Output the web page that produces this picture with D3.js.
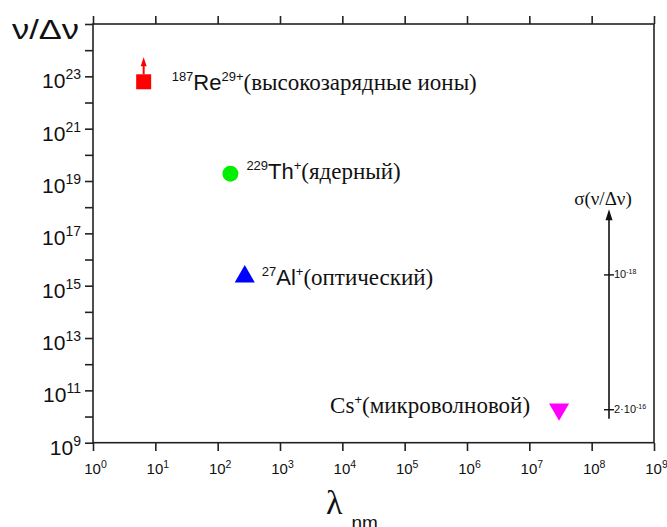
<!DOCTYPE html>
<html>
<head>
<meta charset="utf-8">
<script src="https://cdn.jsdelivr.net/npm/d3@7"></script>
<style>
  body { margin: 0; background: #fff; }
  text { fill: #111; }
</style>
</head>
<body>
<svg id="chart"></svg>
<script>
const width = 667;
const height = 527;
const margin = ({top: 24, right: 12, bottom: 84, left: 93});

// data
const ions = ["Re", "Th", "Al", "Cs"];
const wavelengths = [6.5, 160, 272, 3.0e7];        // nm
const ratios = [6.2e22, 1.9e19, 2.2e15, 1.9e10];   // nu / delta nu
const colors = ["#ff0000", "#00ee00", "#0000ff", "#ff00ff"];
const labelParts = [
  [["187", "sup"], ["Re", "sans"], ["29+", "sup"], ["(высокозарядные ионы)", "serif"]],
  [["229", "sup"], ["Th", "sans"], ["+", "sup"], ["(ядерный)", "serif"]],
  [["27", "sup"], ["Al", "sans"], ["+", "sup"], ["(оптический)", "serif"]],
  [["Cs", "serif"], ["+", "sup"], ["(микроволновой)", "serif"]]
];

const xExponents = [0, 1, 2, 3, 4, 5, 6, 7, 8, 9];
const yExponents = [9, 10, 11, 12, 13, 14, 15, 16, 17, 18, 19, 20, 21, 22, 23, 24, 25];
const yLabelExponents = [9, 11, 13, 15, 17, 19, 21, 23];

const sigmaTicks = [1e-18, 2e-16];
const sigmaTickLabels = [["10", "-18"], ["2·10", "-16"]];
const sigmaAnchors = [2.7e15, 1.9e10];   // ratios the sigma ticks line up with
const sigmaExtent = [7.7e-20, 2.9e-16];

// layout
const shapes = [d3.symbolSquare, d3.symbolCircle, d3.symbolTriangle, d3.symbolTriangle];
const symbolSizes = [225, 200, 175, 175];
const rotations = [0, 0, 0, 180];
const labelOffsets = [[28, 8, "start"], [16, 5, "start"], [17, 8, "start"], [-29, 4, "end"]];

const sans = "'Liberation Sans', Arial, sans-serif";
const serif = "'Liberation Serif', 'Times New Roman', 'DejaVu Serif', serif";

const x = d3.scaleLog()
  .domain([1, 1e9])
  .range([margin.left, width - margin.right - 1]);

const y = d3.scaleLog()
  .domain([1e9, 1e25])
  .range([height - margin.bottom - 0.3, margin.top]);

const sigma = d3.scaleLog()
  .domain(sigmaTicks)
  .range(sigmaAnchors.map(y));

const svg = d3.select("#chart")
  .attr("width", width)
  .attr("height", height)
  .attr("viewBox", [0, 0, width, height]);

const supLabel = (sel, base, exp, supSize, lift) => {
  sel.text(null);
  sel.append("tspan").text(base);
  sel.append("tspan").attr("dy", -lift).attr("font-size", supSize).text(exp);
};

// frame
svg.append("rect")
  .attr("x", margin.left)
  .attr("y", margin.top)
  .attr("width", width - margin.right - 1 - margin.left)
  .attr("height", height - margin.bottom - 0.3 - margin.top)
  .attr("fill", "none")
  .attr("stroke", "#222")
  .attr("stroke-width", 1.6);

// bottom axis
svg.append("g")
  .attr("transform", `translate(0,${height - margin.bottom})`)
  .call(d3.axisBottom(x).tickValues(xExponents.map(e => 10 ** e)).tickSize(8).tickPadding(12).tickSizeOuter(0))
  .call(g => g.select(".domain").remove())
  .call(g => g.selectAll(".tick line").attr("stroke", "#222").attr("stroke-width", 1.6))
  .call(g => g.selectAll(".tick text")
    .attr("font-family", sans).attr("font-size", 15).attr("dx", 2).attr("fill", "#222")
    .each(function(d, i) { supLabel(d3.select(this), "10", xExponents[i], 10.5, 6); }));

// top axis, ticks only
svg.append("g")
  .attr("transform", `translate(0,${margin.top})`)
  .call(d3.axisTop(x).tickValues(xExponents.map(e => 10 ** e)).tickSize(8).tickFormat("").tickSizeOuter(0))
  .call(g => g.select(".domain").remove())
  .call(g => g.selectAll(".tick line").attr("stroke", "#222").attr("stroke-width", 1.6));

// left axis
svg.append("g")
  .attr("transform", `translate(${margin.left},0)`)
  .call(d3.axisLeft(y).tickValues(yExponents.map(e => 10 ** e)).tickSize(8).tickPadding(4).tickSizeOuter(0)
    .tickFormat(d => ""))
  .call(g => g.select(".domain").remove())
  .call(g => g.selectAll(".tick line").attr("stroke", "#222").attr("stroke-width", 1.6))
  .call(g => g.selectAll(".tick text")
    .attr("font-family", sans).attr("font-size", 21).attr("dy", "0.55em").attr("fill", "#111")
    .each(function(d, i) {
      const e = yExponents[i];
      if (yLabelExponents.includes(e)) supLabel(d3.select(this), "10", e, 14, 9);
    }));

// axis titles
svg.append("text")
  .attr("x", 12)
  .attr("y", 39)
  .attr("font-family", sans)
  .attr("font-size", 27)
  .attr("textLength", 67)
  .attr("lengthAdjust", "spacingAndGlyphs")
  .text("ν/Δν");

const xTitle = svg.append("text")
  .attr("x", 326)
  .attr("y", 514)
  .attr("font-family", serif)
  .attr("font-size", 34);
xTitle.append("tspan").text("λ");
xTitle.append("tspan").attr("dx", 9).attr("dy", 15).attr("font-family", sans).attr("font-size", 19).text("nm");

// points
svg.append("g")
  .selectAll("path")
  .data(ions)
  .join("path")
  .attr("transform", (d, i) => `translate(${x(wavelengths[i])},${y(ratios[i])}) rotate(${rotations[i]})`)
  .attr("d", (d, i) => d3.symbol(shapes[i], symbolSizes[i])())
  .attr("fill", (d, i) => colors[i]);

// lower-limit arrow on the Re point
const reX = x(wavelengths[0]);
const reTop = y(ratios[0]) - 7.5;
svg.append("line")
  .attr("x1", reX).attr("x2", reX)
  .attr("y1", reTop).attr("y2", reTop - 10)
  .attr("stroke", colors[0])
  .attr("stroke-width", 2);
svg.append("path")
  .attr("d", `M${reX - 3},${reTop - 8}L${reX},${reTop - 17}L${reX + 3},${reTop - 8}Z`)
  .attr("fill", colors[0]);

// point labels
svg.append("g")
  .selectAll("text")
  .data(ions)
  .join("text")
  .attr("x", (d, i) => x(wavelengths[i]) + labelOffsets[i][0])
  .attr("y", (d, i) => y(ratios[i]) + labelOffsets[i][1])
  .attr("text-anchor", (d, i) => labelOffsets[i][2])
  .each(function(d, i) {
    const t = d3.select(this);
    let lifted = 0;
    labelParts[i].forEach(([s, kind]) => {
      const ts = t.append("tspan").text(s);
      const lift = kind === "sup" ? 9 : 0;
      ts.attr("dy", lifted - lift);
      lifted = lift;
      if (kind === "sup") ts.attr("font-family", sans).attr("font-size", 13);
      else if (kind === "sans") ts.attr("font-family", sans).attr("font-size", 22);
      else ts.attr("font-family", serif).attr("font-size", 23);
    });
  });

// sigma axis
const sx = 609;
svg.append("line")
  .attr("x1", sx).attr("x2", sx)
  .attr("y1", sigma(sigmaExtent[1]))
  .attr("y2", sigma(sigmaExtent[0]) + 6)
  .attr("stroke", "#111")
  .attr("stroke-width", 1.6);
svg.append("path")
  .attr("d", `M${sx - 3.5},${sigma(sigmaExtent[0]) + 11}L${sx},${sigma(sigmaExtent[0])}L${sx + 3.5},${sigma(sigmaExtent[0]) + 11}Z`)
  .attr("fill", "#111");

svg.append("g")
  .attr("transform", `translate(${sx},0)`)
  .call(d3.axisRight(sigma).tickValues(sigmaTicks).tickSize(5).tickPadding(0).tickFormat(() => ""))
  .call(g => g.select(".domain").remove())
  .call(g => g.selectAll(".tick line").attr("x1", -5).attr("stroke", "#111").attr("stroke-width", 1.4))
  .call(g => g.selectAll(".tick text")
    .attr("font-family", sans).attr("font-size", 11).attr("fill", "#111")
    .each(function(d, i) { supLabel(d3.select(this), sigmaTickLabels[i][0], sigmaTickLabels[i][1], 7, 4); }));

svg.append("text")
  .attr("x", sx - 6)
  .attr("y", sigma(sigmaExtent[0]) - 4)
  .attr("text-anchor", "middle")
  .attr("font-family", serif)
  .attr("font-size", 19)
  .text("σ(ν/Δν)");
</script>
</body>
</html>
